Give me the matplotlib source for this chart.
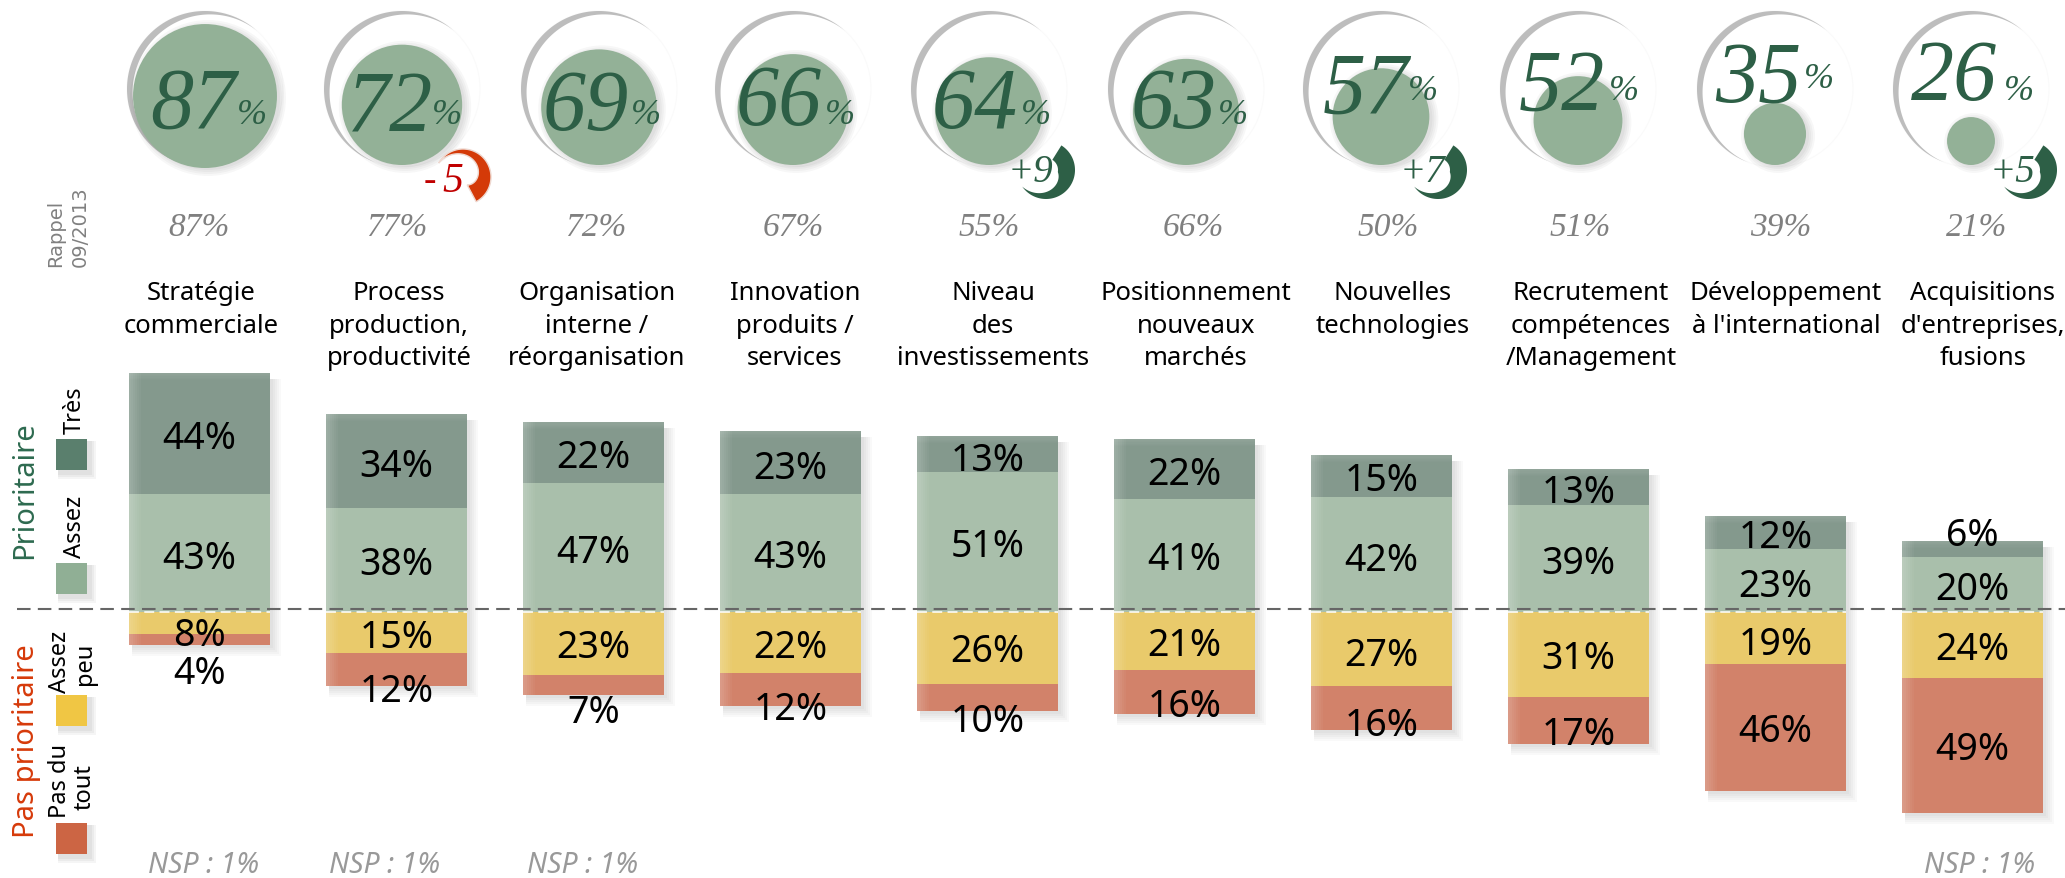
import numpy as np
import matplotlib
matplotlib.use("Agg")
import matplotlib.pyplot as plt
from matplotlib.patches import Circle, Polygon, Rectangle

categories = ["Stratégie\ncommerciale", "Process\nproduction,\nproductivité", "Organisation\ninterne /\nréorganisation",
              "Innovation\nproduits /\nservices", "Niveau\ndes\ninvestissements", "Positionnement\nnouveaux\nmarchés",
              "Nouvelles\ntechnologies", "Recrutement\ncompétences\n/Management", "Développement\nà l'international",
              "Acquisitions\nd'entreprises,\nfusions"]
total = [87, 72, 69, 66, 64, 63, 57, 52, 35, 26]
rappel = [87, 77, 72, 67, 55, 66, 50, 51, 39, 21]
tres = [44, 34, 22, 23, 13, 22, 15, 13, 12, 6]
assez = [43, 38, 47, 43, 51, 41, 42, 39, 23, 20]
peu = [8, 15, 23, 22, 26, 21, 27, 31, 19, 24]
pas = [4, 12, 7, 12, 10, 16, 16, 17, 46, 49]
evolution = {1: "-5", 4: "+9", 6: "+7", 9: "+5"}
nsp = {0: "NSP : 1%", 1: "NSP : 1%", 2: "NSP : 1%", 9: "NSP : 1%"}

# label nudges in pixels, the picture does not centre them in small segments
nudge_tres = [1.5, 1.5, 1, 2, 3, 2, 1, 2, 1, -17]
nudge_assez = [2, 1, 1, 1, 1, 0, 2, 1, 2, 1]
nudge_peu = [9, 1, 0, 1, 0, 1, 2, 0, 2, 1]
nudge_pas = [30, 18, 24, 17, 20, 11, 13, 10, 0, 0]
VAL_SHIFT = 3.5

# places in the top band, read in pixels
circle_x = [205, 402, 599, 793, 989, 1186, 1381, 1578, 1775, 1971]
big_left = [150, 347, 543, 736, 932, 1131, 1323, 1519, 1715, 1911]
big_right = [267, 462, 661, 855, 1051, 1248, 1438, 1639, 1834, 2034]
big_base = [128, 132, 130, 125, 128, 128, 113, 110, 102, 100]
pct_base = [124, 124, 124, 124, 124, 124, 100, 100, 88, 100]
rappel_x = [199, 397, 596, 793, 989, 1193, 1388, 1580, 1781, 1977]
label_x = [201, 399, 597, 795, 993, 1196, 1393, 1591, 1786, 1983]
nsp_x = {0: 204, 1: 385, 2: 583, 9: 1980}

GREEN = "#2d5f46"
SANS = "Noto Sans"
SERIF = "Liberation Serif"

fig = plt.figure(figsize=(20.65, 8.79), dpi=100)

# bars axes: x in categories, y in percent
ax = fig.add_axes([0, 0, 1, 1])
PX = 2.75
X0, PITCH = 199.5, 197.0
ax.set_xlim(-X0 / PITCH, (2065 - X0) / PITCH)
ax.set_ylim((613 - 879) / PX, 613 / PX)
ax.axis("off")

# pixel overlay for the decorations
pw = fig.add_axes([0, 0, 1, 1])
pw.set_xlim(0, 2065)
pw.set_ylim(879, 0)
pw.axis("off")
pw.patch.set_alpha(0)

x = np.arange(len(total))
W = 141 / PITCH
tops = np.array(tres) + np.array(assez)
bottoms = -(np.array(peu) + np.array(pas))

# soft shadows under the columns
for s in [11, 9, 7, 5, 3]:
    ax.bar(x + (s + 3) / 2 / PITCH, tops - bottoms + (s - 6) / PX, W + (s - 3) / PITCH,
           bottom=bottoms - s / PX, color="k", alpha=0.025, lw=0, zorder=1)

seg_colors = ["#84998d", "#a9bfab", "#e9ca6b", "#d2826a"]
ax.bar(x, tres, W, bottom=assez, color=seg_colors[0], lw=0, zorder=2)
ax.bar(x, assez, W, color=seg_colors[1], lw=0, zorder=2)
ax.bar(x, -np.array(peu), W, color=seg_colors[2], lw=0, zorder=2)
ax.bar(x, -np.array(pas), W, bottom=-np.array(peu), color=seg_colors[3], lw=0, zorder=2)

# lighter left edge and top edge of the columns
for k in range(6):
    ax.bar(x - W / 2 + (k + 0.5) * 2 / PITCH, tops - bottoms, 2 / PITCH, bottom=bottoms,
           color="w", alpha=0.2 - k * 0.033, lw=0, zorder=3)
    ax.bar(x, 1.2 / PX, W, bottom=tops - (k + 1) * 1.2 / PX,
           color="w", alpha=0.11 - k * 0.018, lw=0, zorder=3)

# values in the segments
font_val = dict(ha="center", va="center", fontsize=27, family=SANS, color="k", zorder=6)
for i in x:
    ax.text(i, assez[i] + tres[i] / 2 - (nudge_tres[i] + VAL_SHIFT) / PX, f"{tres[i]}%", **font_val)
    ax.text(i, assez[i] / 2 - (nudge_assez[i] + VAL_SHIFT) / PX, f"{assez[i]}%", **font_val)
    ax.text(i, -peu[i] / 2 - (nudge_peu[i] + VAL_SHIFT) / PX, f"{peu[i]}%", **font_val)
    ax.text(i, -peu[i] - pas[i] / 2 - (nudge_pas[i] + VAL_SHIFT) / PX, f"{pas[i]}%", **font_val)

# separation between the two halves
pw.plot([17, 2065], [610, 610], color="#666666", lw=1.5, dashes=(6.5, 3.5), zorder=7)
for i in x:
    left = X0 + PITCH * i - 70.5
    pw.plot([left, left + 141], [612.5, 612.5], color="w", lw=1.1, dashes=(6.5, 3.5), zorder=7)


def crescent(cx, cy, r, a0, a1, tmax, color, zorder=2):
    th = np.radians(np.linspace(a0, a1, 120))
    u = np.linspace(0, 1, 120)
    t = tmax * np.sin(np.pi * u) ** 1.2
    outer = np.c_[cx + r * np.cos(th), cy - r * np.sin(th)]
    inner = np.c_[cx + (r - t) * np.cos(th), cy - (r - t) * np.sin(th)]
    pw.add_patch(Polygon(np.r_[outer, inner[::-1]], closed=True, fc=color, ec="none", zorder=zorder))


# circles of the top band, radius follows the value
for i, v in enumerate(total):
    r = 3.5 + 0.787 * v
    cx = circle_x[i]
    cy = (169 if i == 0 else 166) - r
    crescent(cx, 90, 78, 48, 250, 6.5, "#bdbdbd", zorder=1)
    pw.add_patch(Circle((cx, 90), 78, fc="none", ec="#fafafa", lw=0.8, zorder=0.5))
    for s in [8, 6, 4, 2]:
        pw.add_patch(Circle((cx + 3, cy + 2), r + s - 2, fc="k", ec="none", alpha=0.03, zorder=1.5))
    pw.add_patch(Circle((cx, cy), r, fc="#93b197", ec="none", zorder=2))
    pw.text(big_left[i], big_base[i], str(v), family=SERIF, style="italic", fontsize=62,
            color=GREEN, ha="left", va="baseline", zorder=4)
    pw.text(big_right[i], pct_base[i], "%", family=SERIF, style="italic", fontsize=26,
            color=GREEN, ha="right", va="baseline", zorder=4)
    pw.text(rappel_x[i], 236, f"{rappel[i]}%", family=SERIF, style="italic", fontsize=24,
            color="#808080", ha="center", va="baseline")
    for k, line in enumerate(categories[i].split("\n")):
        pw.text(label_x[i], 294 + 32.5 * k, line, family=SANS, fontsize=18.5, color="k",
                ha="center", va="center")

# evolution marks since the last wave
for i, txt in evolution.items():
    cx = circle_x[i]
    if txt[0] == "-":
        ax_c, ay_c = cx + 61, 178
        th = np.radians(np.linspace(150, -62, 80))
        t = np.linspace(0, 19, 80)
        outer = np.c_[ax_c + 28 * np.cos(th), ay_c - 28 * np.sin(th)]
        inner = np.c_[ax_c + (28 - t) * np.cos(th), ay_c - (28 - t) * np.sin(th)]
        pw.add_patch(Polygon(np.r_[outer, inner[::-1]], closed=True, fc="#d43a08", ec="#eed8d0", lw=1, zorder=3))
        pw.text(cx + 28, 182, "-", family=SERIF, style="italic", fontsize=27, color="#c00000",
                ha="center", va="center", zorder=5)
        pw.text(cx + 51, 182, txt[1], family=SERIF, style="italic", fontsize=30, color="#c00000",
                ha="center", va="center", zorder=5)
    else:
        ax_c, ay_c = cx + 57, 171
        th = np.radians(np.linspace(58, -145, 80))
        t = 17 * np.minimum(1, np.linspace(1.5, 0, 80))
        outer = np.c_[ax_c + 29 * np.cos(th), ay_c - 29 * np.sin(th)]
        inner = np.c_[ax_c + (29 - t) * np.cos(th), ay_c - (29 - t) * np.sin(th)]
        pw.add_patch(Polygon(np.r_[outer, inner[::-1]], closed=True, fc=GREEN, ec="none", zorder=3))
        pw.text(ax_c - 16, 172, txt, family=SERIF, style="italic", fontsize=28, color=GREEN,
                ha="center", va="center", zorder=5)

# left side legend
pw.text(46, 267, "Rappel", family="DejaVu Sans", fontsize=14, color="#808080", rotation=90, ha="left", va="bottom")
pw.text(71, 267, "09/2013", family="DejaVu Sans", fontsize=14, color="#808080", rotation=90, ha="left", va="bottom")
pw.text(25, 490, "Prioritaire", family=SANS, fontsize=21, color="#2d6a4f", rotation=90, ha="center", va="center")
pw.text(27, 741, "Pas prioritaire", family=SANS, fontsize=21, color="#d63a0a", rotation=90, ha="center", va="center")

legend_y = [440, 564, 696, 824]
legend_col = ["#5a7f6d", "#90af95", "#f0c644", "#cc6544"]
for y, c in zip(legend_y, legend_col):
    for s in [7, 5, 3]:
        pw.add_patch(Rectangle((56 + 2, y + 2), 31 + s, 31 + s, fc="k", ec="none", alpha=0.04, zorder=1))
    pw.add_patch(Rectangle((56, y), 31, 31, fc=c, ec="none", zorder=2))
font_leg = dict(family=SANS, fontsize=17, color="k", rotation=90, ha="center", va="center")
pw.text(75, 410, "Très", **font_leg)
pw.text(75, 527, "Assez", **font_leg)
pw.text(60, 662, "Assez", **font_leg)
pw.text(85, 664, "peu", **font_leg)
pw.text(60, 781, "Pas du", **font_leg)
pw.text(85, 787, "tout", **font_leg)

for i, txt in nsp.items():
    pw.text(nsp_x[i], 866, txt, family=SANS, style="italic", fontsize=20.5, color="#999999",
            ha="center", va="center")

fig.savefig("out.png", dpi=100)
